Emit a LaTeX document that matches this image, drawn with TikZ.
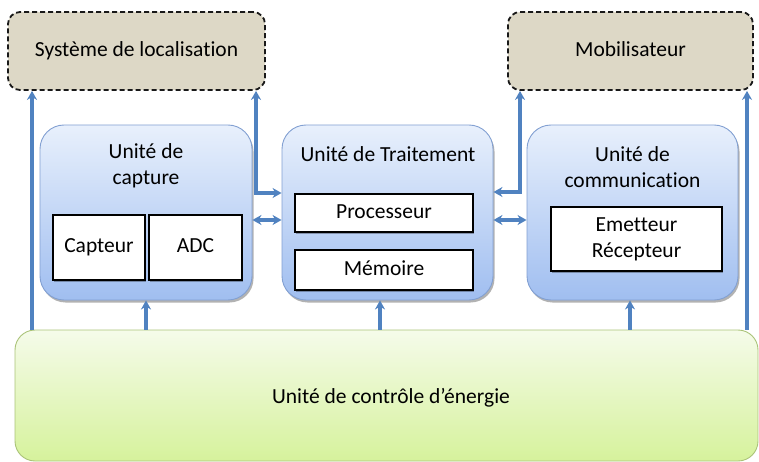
\documentclass[tikz,border=0pt]{standalone}
\usepackage{fontspec}
\setmainfont{Carlito}[Ligatures=NoCommon]
\usetikzlibrary{arrows.meta,shadows,calc}
\definecolor{arrowblue}{RGB}{80,130,192}
\definecolor{unittop}{RGB}{232,240,252}
\definecolor{unitbot}{RGB}{160,190,240}
\definecolor{unitline}{RGB}{130,160,210}
\definecolor{engtop}{RGB}{245,251,234}
\definecolor{engbot}{RGB}{214,242,156}
\definecolor{engline}{RGB}{170,195,120}
\definecolor{extfill}{RGB}{221,216,198}
\tikzset{
  lbl/.style={font=\fontsize{21.5}{26}\selectfont, align=center, text=black},
  extbox/.style={lbl, draw=black!90, dashed, dash pattern=on 5pt off 3pt, line width=1.8pt,
    fill=extfill, rounded corners=12pt, inner sep=0pt},
  unitbox/.style={draw=unitline, line width=0.9pt, rounded corners=24pt,
    top color=unittop, bottom color=unitbot, inner sep=0pt,
    drop shadow={shadow xshift=1.5pt, shadow yshift=-2.5pt, opacity=0.3, fill=black}},
  engbox/.style={draw=engline, line width=0.9pt, rounded corners=20pt,
    top color=engtop, bottom color=engbot, inner sep=0pt},
  partbox/.style={lbl, draw=black, line width=2.2pt, fill=white, inner sep=0pt,
    drop shadow={shadow xshift=1pt, shadow yshift=-1.5pt, opacity=0.3, fill=black}},
  link/.style={draw=arrowblue, line width=3.2pt},
  up/.style={link, -{Stealth[length=9pt,width=10pt]}},
  both/.style={link, {Stealth[length=9pt,width=10pt]}-{Stealth[length=9pt,width=10pt]}},
}
\begin{document}
\begin{tikzpicture}[x=1pt,y=-1pt]
  \useasboundingbox (0,0) rectangle (759,462);

  % power unit along the bottom
  \node[engbox, minimum width=743pt, minimum height=131pt] (energy) at (386.5,395.5) {};
  \node[lbl] (energylbl) at (391,398) {Unité de contrôle d’énergie};

  % external devices
  \node[extbox, minimum width=257pt, minimum height=78pt] (loc) at (136.5,51) {\strut Système de localisation};
  \node[extbox, minimum width=245pt, minimum height=78pt] (mob) at (630.5,51) {\strut Mobilisateur};

  % the three units
  \node[unitbox, minimum width=212pt, minimum height=175pt] (cap) at (146,212.5) {};
  \node[unitbox, minimum width=211pt, minimum height=175pt] (trait) at (387.5,212.5) {};
  \node[unitbox, minimum width=211pt, minimum height=175pt] (comm) at (632.5,212.5) {};

  \node[lbl] (caplbl) at (146,166) {Unité de\\capture};
  \node[lbl] (traitlbl) at (388,154) {Unité de Traitement};
  \node[lbl] (commlbl) at (632.5,167) {Unité de\\communication};

  % parts inside the units
  \node[partbox, minimum width=92pt, minimum height=65pt] (capteur) at (99,247.5) {\strut Capteur};
  \node[partbox, minimum width=93pt, minimum height=65pt] (adc) at (195.5,247.5) {\strut ADC};
  \node[partbox, minimum width=178pt, minimum height=38pt] (proc) at (384,213) {\strut Processeur};
  \node[partbox, minimum width=178pt, minimum height=40pt] (mem) at (384,270) {\strut Mémoire};
  \node[partbox, minimum width=171pt, minimum height=64pt] (radio) at (636.5,239) {Emetteur\\Récepteur};

  % reference points for the connectors
  \coordinate (xl) at (32,0);
  \coordinate (xr) at (747,0);
  \coordinate (xt) at (380,0);
  \coordinate (xc) at (630,0);
  \coordinate (k1) at (256,193);
  \coordinate (k2) at (520,192);
  \coordinate (h) at (0,220);

  % power lines
  \draw[up] (energy.north -| xl) -- (loc.south -| xl);
  \draw[up] (energy.north -| xr) -- (mob.south -| xr);
  \draw[up] (energy.north -| cap) -- (cap.south);
  \draw[up] (energy.north -| xt) -- (trait.south -| xt);
  \draw[up] (energy.north -| xc) -- (comm.south -| xc);

  % data links
  \draw[both] (loc.south -| k1) |- (trait.west |- k1);
  \draw[both] (trait.east |- k2) -| (mob.south -| k2);
  \draw[both] (cap.east |- h) -- (trait.west |- h);
  \draw[both] (trait.east |- h) -- (comm.west |- h);
\end{tikzpicture}
\end{document}
